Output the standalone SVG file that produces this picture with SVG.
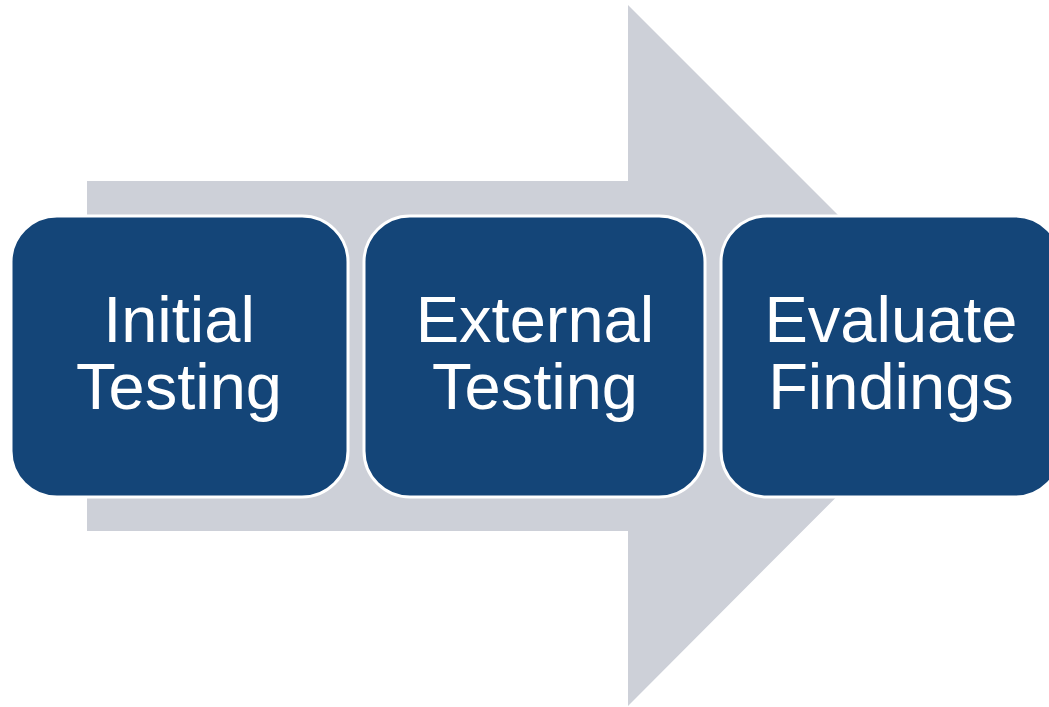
<svg xmlns="http://www.w3.org/2000/svg" width="1049" height="707" viewBox="0 0 1049 707">
  <style>
    .step rect { fill: #144578; stroke: #ffffff; stroke-width: 3; }
    .step text { fill: #ffffff; font-family: "Liberation Sans", Arial, sans-serif; font-size: 65px; text-anchor: middle; }
  </style>
  <rect width="1049" height="707" fill="#ffffff"/>
  <!-- background process arrow -->
  <g id="connectors">
    <polygon points="87,181 628,181 628,5 978,355 628,706 628,531 87,531" fill="#cdd0d8"/>
  </g>
  <g id="step-initial" class="step">
    <rect x="11" y="216" width="337" height="281" rx="46" ry="46"/>
    <text x="179" y="342">Initial</text>
    <text x="179" y="409">Testing</text>
  </g>
  <g id="step-external" class="step">
    <rect x="364" y="216" width="341" height="281" rx="46" ry="46"/>
    <text x="535" y="342">External</text>
    <text x="535" y="409">Testing</text>
  </g>
  <g id="step-evaluate" class="step">
    <rect x="721" y="216" width="340" height="281" rx="46" ry="46"/>
    <text x="891" y="342">Evaluate</text>
    <text x="891" y="409">Findings</text>
  </g>
</svg>
